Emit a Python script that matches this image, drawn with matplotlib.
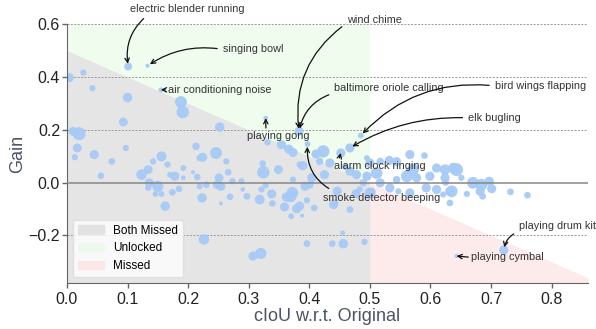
import matplotlib
matplotlib.use('Agg')
import matplotlib.pyplot as plt
import numpy as np
from matplotlib.patches import Patch

plt.rcParams['font.family'] = ['Liberation Sans', 'DejaVu Sans']

# cIoU vs gain for every sound class (x, y, marker size)
pts_x = [0.004, 0.027, 0.042, 0.100, 0.101, 0.133, 0.155, 0.188, 0.191, 0.093,
         0.252, 0.010, 0.020, 0.017, 0.097, 0.013, 0.045, 0.074, 0.056, 0.123,
         0.134, 0.142, 0.156, 0.166, 0.178, 0.170, 0.192, 0.213, 0.224, 0.219,
         0.246, 0.208, 0.215, 0.230, 0.251, 0.219, 0.136, 0.150, 0.134, 0.146,
         0.156, 0.174, 0.185, 0.162, 0.223, 0.226, 0.248, 0.192, 0.254, 0.269,
         0.297, 0.318, 0.338, 0.339, 0.359, 0.369, 0.362, 0.379, 0.370, 0.307,
         0.320, 0.254, 0.266, 0.273, 0.288, 0.290, 0.324, 0.323, 0.328, 0.321,
         0.349, 0.372, 0.373, 0.384, 0.328, 0.383, 0.397, 0.331, 0.354, 0.366,
         0.373, 0.423, 0.411, 0.434, 0.417, 0.389, 0.404, 0.393, 0.401, 0.396,
         0.384, 0.388, 0.408, 0.440, 0.467, 0.455, 0.396, 0.438, 0.456, 0.491,
         0.477, 0.500, 0.467, 0.485, 0.452, 0.566, 0.590, 0.532, 0.544, 0.500,
         0.511, 0.495, 0.610, 0.624, 0.638, 0.561, 0.577, 0.599, 0.624, 0.632,
         0.566, 0.547, 0.533, 0.593, 0.610, 0.446, 0.483, 0.503, 0.442, 0.621,
         0.571, 0.517, 0.489, 0.544, 0.643, 0.651, 0.670, 0.684, 0.697, 0.701,
         0.682, 0.686, 0.635, 0.660, 0.732, 0.760, 0.632, 0.625, 0.643, 0.721,
         0.517, 0.467, 0.478, 0.459, 0.425, 0.495, 0.263]
pts_y = [0.397, 0.416, 0.357, 0.322, 0.439, 0.442, 0.351, 0.305, 0.267, 0.229,
         0.210, 0.194, 0.185, 0.131, 0.131, 0.096, 0.106, 0.080, 0.026, 0.030,
         0.049, 0.080, 0.099, 0.068, 0.024, 0.030, 0.018, 0.137, 0.096, 0.093,
         0.112, 0.039, 0.021, -0.008, 0.018, -0.014, -0.001, -0.014, -0.020, -0.043,
         -0.043, -0.037, -0.024, -0.089, -0.058, -0.215, -0.008, 0.055, -0.079, -0.054,
         -0.052, -0.064, -0.043, -0.079, -0.092, -0.052, -0.055, -0.099, -0.127, -0.278,
         -0.268, -0.014, 0.039, 0.005, 0.005, -0.026, 0.039, 0.072, -0.010, -0.026,
         0.049, -0.039, 0.011, 0.068, 0.244, 0.194, 0.146, 0.152, 0.143, 0.127,
         0.114, 0.118, 0.108, 0.074, 0.080, 0.064, 0.018, -0.014, -0.008, -0.067,
         -0.089, -0.125, -0.096, -0.083, -0.102, -0.190, -0.231, -0.231, -0.231, -0.224,
         -0.042, -0.040, 0.131, 0.178, 0.112, 0.106, 0.102, 0.084, 0.080, 0.074,
         0.036, 0.024, 0.055, 0.049, 0.055, 0.024, 0.018, 0.024, 0.018, -0.033,
         -0.039, -0.033, -0.020, -0.020, -0.026, -0.033, -0.026, -0.033, -0.077, -0.045,
         0.049, -0.001, -0.001, 0.011, 0.049, 0.018, -0.001, -0.008, 0.005, -0.023,
         -0.033, -0.052, -0.033, -0.043, -0.035, -0.048, -0.077, 0.000, -0.278, -0.255,
         0.080, 0.043, 0.030, 0.060, 0.030, 0.093, 0.080]
pts_s = [28, 14, 14, 32, 22, 6, 8, 50, 55, 28,
         32, 28, 60, 28, 14, 14, 30, 16, 16, 40,
         28, 14, 36, 14, 30, 12, 8, 20, 30, 14,
         50, 6, 16, 16, 28, 14, 30, 45, 14, 12,
         12, 16, 16, 32, 32, 40, 28, 12, 6, 16,
         16, 34, 30, 16, 30, 50, 30, 30, 12, 30,
         45, 30, 16, 14, 14, 8, 55, 16, 14, 14,
         28, 50, 14, 14, 8, 30, 12, 14, 30, 30,
         30, 55, 30, 30, 20, 32, 30, 30, 20, 14,
         30, 6, 16, 30, 16, 8, 16, 16, 32, 14,
         28, 45, 30, 12, 30, 30, 16, 30, 28, 30,
         50, 30, 30, 40, 40, 50, 30, 30, 30, 30,
         30, 14, 30, 30, 30, 30, 14, 20, 20, 14,
         50, 30, 20, 20, 60, 14, 50, 50, 30, 30,
         30, 16, 50, 14, 16, 16, 16, 16, 6, 30,
         20, 30, 30, 16, 30, 12, 14]

# labelled classes: text, point (x, y), text position (x, y)
ann_text = ['electric blender running', 'singing bowl', 'air conditioning noise',
            'playing gong', 'wind chime', 'baltimore oriole calling',
            'bird wings flapping', 'elk bugling', 'alarm clock ringing',
            'smoke detector beeping', 'playing drum kit', 'playing cymbal']
ann_xy = [(0.101, 0.439), (0.133, 0.442), (0.155, 0.351), (0.328, 0.244),
          (0.383, 0.194), (0.383, 0.194), (0.485, 0.178), (0.467, 0.131),
          (0.452, 0.112), (0.397, 0.146), (0.721, -0.255), (0.643, -0.278)]
ann_pos = [(0.198, 0.657), (0.257, 0.504), (0.167, 0.351), (0.349, 0.177),
           (0.462, 0.615), (0.441, 0.358), (0.706, 0.366), (0.662, 0.245),
           (0.441, 0.064), (0.422, -0.057), (0.746, -0.166), (0.667, -0.283)]
ann_ha = ['center', 'left', 'left', 'center', 'left', 'left',
          'left', 'left', 'left', 'left', 'left', 'left']
ann_rel = [(0.17, 0), (0, 0.5), (0, 0.5), (0.3, 1), (0, 0.2), (0, 0),
           (0, 0.5), (0, 0.5), (0.05, 1), (0.12, 1), (0, 0), (0, 0.5)]
ann_rad = [0.3, 0.2, 0, 0, 0.3, 0.3, 0.25, 0.15, 0, -0.35, 0.3, 0]

xmax = 0.86
ymin, ymax = -0.38, 0.6

fig = plt.figure(figsize=(5.96, 3.29), dpi=100)
ax = fig.add_axes([0.1124, 0.1398, 0.8742, 0.7872])

# regions
xl = np.array([0, 0.5])
ax.fill_between(xl, ymin, 0.5 - xl, color='#e5e5e5', lw=0, zorder=0)
ax.fill_between(xl, 0.5 - xl, ymax, color='#effcee', lw=0, zorder=0)
xr = np.array([0.5, xmax])
ax.fill_between(xr, ymin, 0.5 - xr, color='#fdebec', lw=0, zorder=0)

for g in [0.6, 0.4, 0.2, -0.2]:
    ax.axhline(g, color='#999999', lw=0.7, ls=(0, (2, 1.5)), zorder=1)

ax.scatter(pts_x, pts_y, s=np.array(pts_s) * 1.45, color='#a6caf6', lw=0,
           alpha=0.95, zorder=2)
ax.axhline(0, color='#888888', lw=1.3, alpha=0.85, zorder=3)

short = {2, 3, 8, 11}
for i, t in enumerate(ann_text):
    ax.annotate(t, xy=ann_xy[i], xytext=ann_pos[i], ha=ann_ha[i], va='center',
                fontsize=7.8, color='#333333', zorder=5, annotation_clip=False,
                arrowprops=dict(arrowstyle='->', color='#111111', lw=0.9,
                                connectionstyle=f'arc3,rad={ann_rad[i]}',
                                relpos=ann_rel[i],
                                shrinkA=0 if i in short else 2,
                                shrinkB=0 if i in short else 2))

ax.set_xlim(0, xmax)
ax.set_ylim(ymin, ymax)
ax.set_xticks([0.0, 0.1, 0.2, 0.3, 0.4, 0.5, 0.6, 0.7, 0.8])
ax.set_yticks([-0.2, 0.0, 0.2, 0.4, 0.6])
ax.tick_params(labelsize=11.5, colors='#666666', labelcolor='#222222',
               length=3.5, width=1)
ax.tick_params(axis='y', pad=1.5)
ax.tick_params(axis='x', pad=3)
for side in ['top', 'right']:
    ax.spines[side].set_visible(False)
for side in ['left', 'bottom']:
    ax.spines[side].set_color('#666666')
ax.set_xlabel('cIoU w.r.t. Original', fontsize=13, color='#4b5366')
ax.set_ylabel('Gain', fontsize=13, color='#4b5366')
ax.xaxis.set_label_coords(0.5, -0.095)
ax.yaxis.set_label_coords(-0.078, 0.5)

handles = [Patch(color='#e2e2e2', label='Both Missed'),
           Patch(color='#edf9ec', label='Unlocked'),
           Patch(color='#fbe6e8', label='Missed')]
ax.legend(handles=handles, loc='lower left', fontsize=8.5, handlelength=2.2,
          edgecolor='#dddddd', framealpha=0.8)

fig.savefig('out.png', dpi=100)
